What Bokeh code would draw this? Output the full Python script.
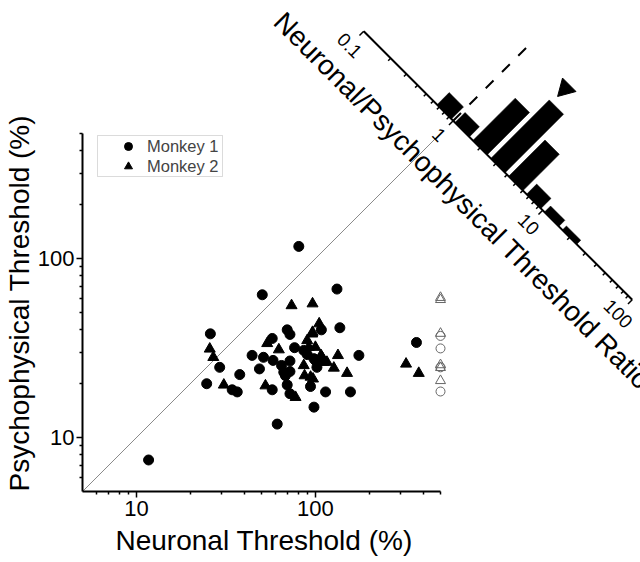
from math import pi, log10, sqrt
from bokeh.plotting import figure
from bokeh.models import Legend, LegendItem, BoxAnnotation, FixedTicker, PrintfTickFormatter, Title
from bokeh.core.properties import value
from bokeh.embed import file_html
from bokeh.resources import INLINE

FONT = "Liberation Sans"

# ---------------- data ----------------
m1_x = [11.7, 25.9, 29.2, 24.7, 37.8, 34.3, 36.6, 44.3, 48.7, 51.3, 57.4, 57.4, 61.2, 50.5,
        80.8, 132, 69.6, 72.1, 108, 137, 76.5, 58, 64.7, 72.1, 86.1, 90, 175, 66.6, 72.1,
        102, 98.2, 93.9, 69.6, 72.1, 114, 157, 98.2, 367, 100, 68]
m1_y = [7.5, 38, 24.7, 20, 22.5, 18.5, 18, 28.8, 24.2, 28.1, 35.8, 18.5, 11.9, 62.8,
        117, 67.6, 40, 37.7, 40, 41.1, 31.8, 27, 25.3, 26.8, 30.7, 29.1, 28.8, 23.2, 23.4,
        24.7, 27.6, 19.3, 19.7, 17.6, 18, 18, 14.8, 34, 27, 22.2]
m2_x = [25.7, 26.9, 30.8, 53.8, 52.6, 62.5, 73.6, 96.4, 105, 96.4, 90, 91.9, 107.5, 111.4,
        133.7, 86.1, 126.8, 150.3, 87, 97, 77.5, 321, 378, 100, 109, 116, 96, 94]
m2_y = [31.3, 28.1, 19.7, 33.6, 19.5, 31, 54.7, 56, 43.3, 38.8, 34.9, 32, 28.8, 26.4,
        28.8, 25.3, 24.5, 22.9, 22.2, 21.3, 16.8, 25.8, 22.9, 32, 28.1, 26.4, 38, 21.8]
# neurons whose neuronal threshold exceeded the measurable range (plotted at the ceiling)
ceiling = 500
open_circle_y = [37, 31.5, 24.7, 18.1]
open_tri_y = [60.6, 59, 38.2, 25.5, 24.6, 20.8]

axis_lo, axis_hi = 5, 500
major_ticks = [10, 100]
minor_ticks = [6, 7, 8, 9, 20, 30, 40, 50, 60, 70, 80, 90, 200, 300, 400, 500]
ratio_ticks = [0.1, 1, 10, 100]
ratio_tick_labels = ["0.1", "1", "10", "100"]
bin_edges_log = [-0.2, 0.0, 0.2, 0.4, 0.6, 0.8, 1.0, 1.2, 1.4]
bin_counts = [6, 5, 21, 29, 18, 5, 3, 2]
median_ratio = 2.8

# ---------------- layout constants ----------------
W, H = 640, 562
DEC = 179.0               # pixels per decade on both axes
LEFT, BOTTOM = 82, 71
FW, FH = W - LEFT, H - BOTTOM
x_end = 10 ** (log10(axis_lo) + FW / DEC)
y_end = 10 ** (log10(axis_lo) + FH / DEC)
C = 2.77                  # diagonal position of the ratio axis (log units)
PERP = 1.0 / (sqrt(2) * DEC)  # log units per pixel, perpendicular to the ratio axis
K = 2.85                  # pixels per count


def rp(r, h):
    """point at log-ratio r along the rotated axis, h pixels above it"""
    return 10 ** (C + r / 2 + h * PERP), 10 ** (C - r / 2 + h * PERP)


p = figure(width=W, height=H, frame_width=FW, frame_height=FH,
           x_axis_type="log", y_axis_type="log",
           x_range=(axis_lo, x_end), y_range=(axis_lo, y_end),
           output_backend="svg", toolbar_location=None,
           min_border_left=LEFT, min_border_bottom=BOTTOM, min_border_top=0, min_border_right=0)
p.outline_line_color = None
p.xgrid.visible = False
p.ygrid.visible = False
p.background_fill_color = "white"

for ax in (p.xaxis, p.yaxis):
    ax.ticker = FixedTicker(ticks=major_ticks, minor_ticks=minor_ticks)
    ax.formatter = PrintfTickFormatter(format="%d")
    ax.bounds = (axis_lo, axis_hi)
    ax.axis_line_width = 2
    ax.axis_line_color = "black"
    ax.major_tick_line_width = 1.5
    ax.minor_tick_line_width = 1.5
    ax.major_tick_out = 6
    ax.major_tick_in = 0
    ax.minor_tick_out = 3
    ax.minor_tick_in = 0
    ax.major_label_text_font = FONT
    ax.major_label_text_font_size = "22px"
    ax.major_label_text_color = "black"
p.xaxis.major_label_standoff = 3
p.yaxis.major_label_standoff = 2

# axis titles placed along the bounded part of each axis
p.add_layout(Title(text="Neuronal Threshold (%)", align="left", offset=33, standoff=8,
                   text_font=FONT, text_font_size="28px", text_font_style="normal",
                   text_color="black"), "below")
p.add_layout(Title(text="Psychophysical Threshold (%)", align="left", offset=0, standoff=0,
                   text_font=FONT, text_font_size="28px", text_font_style="normal",
                   text_color="black"), "left")

# diagonal identity line (solid inside the axes, dashed through the histogram)
p.line([axis_lo, axis_hi], [axis_lo, axis_hi], line_color="#8a8a8a", line_width=1)
dx0, dy0 = rp(0, 0)
dx1, dy1 = rp(0, 109)
p.line([dx0, dx1], [dy0, dy1], line_color="black", line_width=2, line_dash="11 12")

# scatter data
r1 = p.scatter(m1_x, m1_y, marker="circle", size=10, color="black")
r2 = p.scatter(m2_x, m2_y, marker="triangle", size=11, color="black")
p.scatter([ceiling] * len(open_circle_y), open_circle_y, marker="circle", size=9,
          fill_color=None, line_color="#666666", line_width=1)
p.scatter([ceiling] * len(open_tri_y), open_tri_y, marker="triangle", size=10,
          fill_color=None, line_color="#666666", line_width=1)

# rotated histogram of neuronal/psychophysical threshold ratios
xs, ys = [], []
for i, cnt in enumerate(bin_counts):
    r0 = bin_edges_log[i] + 0.02
    r1_ = bin_edges_log[i + 1] - 0.02
    hh = cnt * K
    pts = [rp(r0, 0), rp(r0, hh), rp(r1_, hh), rp(r1_, 0)]
    xs.append([q[0] for q in pts])
    ys.append([q[1] for q in pts])
p.patches(xs, ys, fill_color="black", line_color="black", line_width=0.5)

# ratio axis
rlo, rhi = log10(ratio_ticks[0]), log10(ratio_ticks[-1])
ax0, ay0 = rp(rlo, 0)
ax1, ay1 = rp(rhi, 0)
p.line([ax0, ax1], [ay0, ay1], line_color="black", line_width=2)
maj_r = [log10(t) for t in ratio_ticks]
min_r = [log10(k * t) for t in ratio_ticks[:-1] for k in range(2, 10)]
sx0, sy0, sx1, sy1 = [], [], [], []
for r, L in [(r, 6) for r in maj_r] + [(r, 3.5) for r in min_r]:
    a = rp(r, 0)
    b = rp(r, -L)
    sx0.append(a[0]); sy0.append(a[1]); sx1.append(b[0]); sy1.append(b[1])
p.segment(sx0, sy0, sx1, sy1, line_color="black", line_width=1.5)

lx, ly = zip(*[rp(r, -20) for r in maj_r])
p.text(list(lx), list(ly), text=ratio_tick_labels, angle=-pi / 4,
       text_align="center", text_baseline="middle",
       text_font=value(FONT), text_font_size="19px", text_color="black")

tx, ty = rp(0.5, -50)
p.text([tx], [ty], text=["Neuronal/Psychophysical Threshold Ratio"], angle=-pi / 4,
       text_align="center", text_baseline="middle",
       text_font=value(FONT), text_font_size="28px", text_color="black")

# median marker
mx, my = rp(log10(median_ratio), 102)
p.scatter([mx], [my], marker="inverted_triangle", angle=-pi / 4, size=19, color="black")

# legend
p.add_layout(BoxAnnotation(left=15, right=140, bottom=315, top=356,
                           left_units="screen", right_units="screen",
                           bottom_units="screen", top_units="screen",
                           fill_color=None, fill_alpha=0, line_color="#888888", line_width=1))
legend = Legend(items=[LegendItem(label="Monkey 1", renderers=[r1]),
                       LegendItem(label="Monkey 2", renderers=[r2])],
                location=(36, 315), padding=0, spacing=0, margin=0,
                glyph_width=20, glyph_height=20, label_height=20, label_standoff=9,
                label_text_font=FONT, label_text_font_size="16.5px",
                border_line_color=None, background_fill_alpha=0)
p.add_layout(legend)

open("out.html", "w").write(file_html(p, INLINE))
